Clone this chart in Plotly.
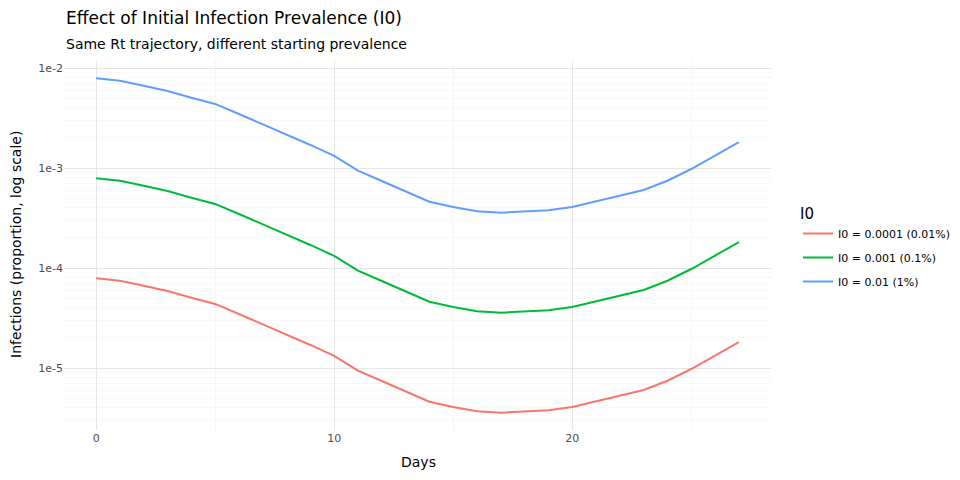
import plotly.graph_objects as go

days = list(range(28))

# I0 = 0.01 (1%)
inf_1pct = [7.89e-3, 7.46e-3, 6.64e-3, 5.89e-3, 5.05e-3, 4.37e-3, 3.47e-3, 2.75e-3,
            2.14e-3, 1.70e-3, 1.32e-3, 9.40e-4, 7.41e-4, 5.89e-4, 4.60e-4, 4.07e-4,
            3.69e-4, 3.57e-4, 3.67e-4, 3.78e-4, 4.07e-4, 4.62e-4, 5.25e-4, 6.03e-4,
            7.46e-4, 9.77e-4, 1.33e-3, 1.81e-3]
# I0 = 0.001 (0.1%)
inf_01pct = [7.89e-4, 7.46e-4, 6.64e-4, 5.89e-4, 5.05e-4, 4.37e-4, 3.47e-4, 2.75e-4,
             2.14e-4, 1.70e-4, 1.32e-4, 9.40e-5, 7.41e-5, 5.89e-5, 4.60e-5, 4.07e-5,
             3.69e-5, 3.57e-5, 3.67e-5, 3.78e-5, 4.07e-5, 4.62e-5, 5.25e-5, 6.03e-5,
             7.46e-5, 9.77e-5, 1.33e-4, 1.81e-4]
# I0 = 0.0001 (0.01%)
inf_001pct = [7.89e-5, 7.46e-5, 6.64e-5, 5.89e-5, 5.05e-5, 4.37e-5, 3.47e-5, 2.75e-5,
              2.14e-5, 1.70e-5, 1.32e-5, 9.40e-6, 7.41e-6, 5.89e-6, 4.60e-6, 4.07e-6,
              3.69e-6, 3.57e-6, 3.67e-6, 3.78e-6, 4.07e-6, 4.62e-6, 5.25e-6, 6.03e-6,
              7.46e-6, 9.77e-6, 1.33e-5, 1.81e-5]

series_names = ["I0 = 0.0001 (0.01%)", "I0 = 0.001 (0.1%)", "I0 = 0.01 (1%)"]
series_values = [inf_001pct, inf_01pct, inf_1pct]
series_colors = ["#F8766D", "#00BA38", "#619CFF"]

y_tickvals = [1e-5, 1e-4, 1e-3, 1e-2]
y_ticktext = ["1e-5", "1e-4", "1e-3", "1e-2"]
x_tickvals = [0, 10, 20]

minor_y = [m * 10.0 ** e for e in range(-6, -1) for m in range(2, 10)]

fig = go.Figure()
for name, vals, col in zip(series_names, series_values, series_colors):
    fig.add_trace(go.Scatter(x=days, y=vals, mode="lines", name=name,
                             legendgroup=name,
                             line=dict(color=col, width=2)))

fig.update_layout(
    width=960, height=480,
    margin=dict(l=64, r=189, t=61, b=50, autoexpand=False),
    paper_bgcolor="white", plot_bgcolor="white",
    font=dict(family="DejaVu Sans", color="black"),
    showlegend=True,
    legend=dict(title=dict(text="I0", font=dict(size=15)),
                x=(798-64)/707, xanchor="left", y=0.625, yanchor="top",
                font=dict(size=11), tracegroupgap=5),
    annotations=[
        dict(text="Effect of Initial Infection Prevalence (I0)", xref="paper", yref="paper",
             x=0, xanchor="left", y=1 + 43/369, yanchor="middle", showarrow=False,
             font=dict(size=17)),
        dict(text="Same Rt trajectory, different starting prevalence", xref="paper", yref="paper",
             x=0, xanchor="left", y=1 + 17/369, yanchor="middle", showarrow=False,
             font=dict(size=14)),
        dict(text="Days", xref="paper", yref="paper",
             x=(418-64)/707, xanchor="center", y=-32/369, yanchor="middle", showarrow=False,
             font=dict(size=14)),
        dict(text="Infections (proportion, log scale)", xref="paper", yref="paper",
             x=-48/707, xanchor="center", y=(430-245)/369, yanchor="middle", showarrow=False,
             textangle=-90, font=dict(size=14)),
    ],
)

fig.update_xaxes(range=[-1.35, 28.35], tickvals=x_tickvals, showline=False, zeroline=False,
                 automargin=False,
                 gridcolor="#e6e6e6", gridwidth=1,
                 minor=dict(tickvals=[5, 15, 25], showgrid=True, gridcolor="#f5f5f5", gridwidth=0.6),
                 tickfont=dict(size=11, color="#4d4d4d"))
fig.update_yaxes(type="log", range=[-5.62, -1.93], tickvals=y_tickvals, ticktext=y_ticktext,
                 automargin=False,
                 showline=False, zeroline=False, gridcolor="#e6e6e6", gridwidth=1,
                 minor=dict(tickvals=minor_y, showgrid=True, gridcolor="#f8f8f8", gridwidth=0.6),
                 tickfont=dict(size=11, color="#4d4d4d"))

fig.write_html("out.html", config={"displayModeBar": False},
               post_script="document.body.style.margin='0';")
